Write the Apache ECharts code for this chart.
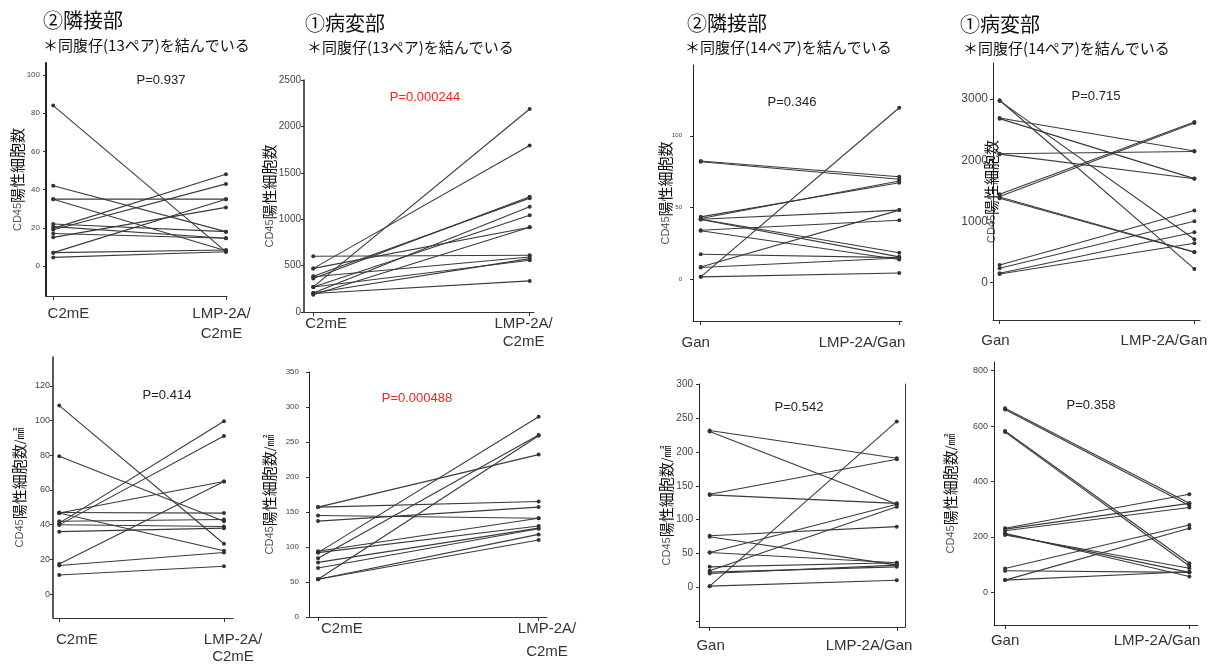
<!DOCTYPE html>
<html>
<head>
<meta charset="utf-8">
<title>CD45陽性細胞数</title>
<script src="https://cdn.jsdelivr.net/npm/echarts@6/dist/echarts.min.js"></script>
<style>
  html, body { margin: 0; padding: 0; background: #fff; }
  #main { width: 1219px; height: 664px; }
</style>
</head>
<body>
<div id="main"></div>
<script>
  // カテゴリ
  var catC2mE = ['C2mE', 'LMP-2A/\nC2mE'];
  var catGan = ['Gan', 'LMP-2A/Gan'];

  // ②隣接部 C2mE 細胞数 (13ペア)
  var adjC2mE_base = [84, 42, 35, 35, 19.7, 19, 15, 7, 22, 20.6, 17, 7, 4.5];
  var adjC2mE_lmp = [7.5, 18, 35, 8, 48, 43, 30.7, 35, 18, 14.5, 14.5, 8.4, 7.5];

  // ①病変部 C2mE 細胞数 (13ペア)
  var lesC2mE_base = [270, 470, 360, 385, 205, 270, 185, 470, 600, 380, 205, 270, 200];
  var lesC2mE_lmp = [2187, 1795, 1241, 1227, 1133, 1043, 914, 914, 611, 593, 575, 557, 335];

  // ②隣接部 C2mE 細胞数/㎟
  var adjC2mE_area_base = [108.7, 79.5, 40.9, 39.9, 46.7, 17.3, 46.7, 47, 42, 40, 36, 16.5, 11];
  var adjC2mE_area_lmp = [29, 42, 99.7, 91.2, 64.9, 64.9, 25, 46.7, 43, 39, 38, 24, 16];

  // ①病変部 C2mE 細胞数/㎟
  var lesC2mE_area_base = [92, 84, 54, 157, 157, 137, 145, 94, 92, 78, 70, 54, 54];
  var lesC2mE_area_lmp = [286, 260, 259, 232, 165, 157, 141, 141, 130, 127, 126, 118, 110];

  // ②隣接部 Gan 細胞数 (14ペア)
  var adjGan_base = [1.9, 82.4, 81.9, 43.6, 42.5, 42, 41.8, 34.3, 34, 17.6, 8.8, 8.4, 1.9, 42];
  var adjGan_lmp = [119.5, 71.5, 69.8, 67.3, 68.5, 48.3, 15.8, 41.3, 14, 15.3, 48.3, 15, 4.6, 18.6];

  // ①病変部 Gan 細胞数 (14ペア)
  var lesGan_base = [2980, 2970, 2690, 2680, 2106, 2100, 1446, 1408, 1380, 1400, 289, 235, 153, 142];
  var lesGan_lmp = [224, 709, 2150, 1700, 2144, 1697, 2624, 2608, 496, 500, 1178, 1004, 824, 644];

  // ②隣接部 Gan 細胞数/㎟
  var adjGan_area_base = [2, 231.5, 230, 137.4, 136.5, 76.4, 74.9, 51.7, 51.7, 24.6, 30.5, 22.7, 20.7, 2];
  var adjGan_area_lmp = [244.8, 190.6, 122.7, 189.2, 124.1, 89.7, 33, 122.7, 36.5, 119.2, 36.5, 30.5, 33, 10.8];

  // ①病変部 Gan 細胞数/㎟
  var lesGan_area_base = [664, 660, 582, 578, 231, 228, 222, 213, 210, 86, 78, 44, 44, 207];
  var lesGan_area_lmp = [321, 313, 105, 95, 354, 321, 306, 57, 72, 243, 72, 231, 74, 87];

  // 目盛りラベル
  var ticks1 = [0, 20, 40, 60, 80, 100];
  var ticks2 = [0, 500, 1000, 1500, 2000, 2500];
  var ticks3 = [0, 20, 40, 60, 80, 100, 120];
  var ticks4 = [0, 50, 100, 150, 200, 250, 300, 350];
  var ticks5 = [0, 50, 100];
  var ticks6 = [0, 1000, 2000, 3000];
  var ticks7 = [0, 50, 100, 150, 200, 250, 300];
  var ticks8 = [0, 200, 400, 600, 800];

  var pValues = ['P=0.937', 'P=0.000244', 'P=0.414', 'P=0.000488', 'P=0.346', 'P=0.715', 'P=0.542', 'P=0.358'];

  var NAME_COUNT = '{a|CD45}{b|陽性細胞数}';
  var NAME_AREA = '{a|CD45}{b|陽性細胞数}{c|/㎟}';

  // レイアウト (px)
  var panels = [
    { grid: [46, 63, 181, 233], x: [-0.042, 1.006], y: [-15.7, 106.3], labels: ticks1, cats: catC2mE, base: adjC2mE_base, lmp: adjC2mE_lmp,
      catPos: [0.088, 0.974], catMargin: 8, catLH: 20, yFont: 8, yMargin: 6, nameGap: 21, name: NAME_COUNT, axisW: 2, p: [161, 80], red: false },
    { grid: [304, 80, 230, 232], x: [-0.043, 1.02], y: [0, 2500], labels: ticks2, cats: catC2mE, base: lesC2mE_base, lmp: lesC2mE_lmp,
      catPos: [0.059, 0.972], catMargin: 3, catLH: 18, yFont: 10, yMargin: 3, nameGap: 27, name: NAME_COUNT, axisW: 1.5, p: [425, 97], red: true },
    { grid: [53, 357, 180, 261], x: [-0.038, 1.055], y: [-13.8, 136.7], labels: ticks3, cats: catC2mE, base: adjC2mE_area_base, lmp: adjC2mE_area_lmp,
      catPos: [0.107, 1.055], catMargin: 13, catLH: 17, yFont: 9, yMargin: 3, nameGap: 26, name: NAME_AREA, axisW: 1.5, p: [167, 395], red: false },
    { grid: [309, 372, 238, 245], x: [-0.041, 1.038], y: [0, 350], labels: ticks4, cats: catC2mE, base: lesC2mE_area_base, lmp: lesC2mE_area_lmp,
      catPos: [0.108, 1.038], catMargin: 0, catLH: 23, yFont: 8, yMargin: 10, nameGap: 32, name: NAME_AREA, axisW: 1, p: [417, 398], red: true },
    { grid: [693, 65, 209, 256], x: [-0.039, 1.014], y: [-28.8, 149.2], labels: ticks5, cats: catGan, base: adjGan_base, lmp: adjGan_lmp,
      catPos: [-0.025, 0.813], catMargin: 13, catLH: 18, yFont: 6, yMargin: 11, nameGap: 20, name: NAME_COUNT, axisW: 1, p: [792, 102], red: false },
    { grid: [993, 63, 207, 257], x: [-0.034, 1.029], y: [-610, 3589], labels: ticks6, cats: catGan, base: lesGan_base, lmp: lesGan_lmp,
      catPos: [-0.021, 0.844], catMargin: 12, catLH: 18, yFont: 12, yMargin: 5, nameGap: -6, name: NAME_COUNT, axisW: 1, p: [1096, 96], red: false },
    { grid: [699, 384, 206, 243], x: [-0.057, 1.044], y: [-58.2, 300], labels: ticks7, cats: catGan, base: adjGan_area_base, lmp: adjGan_area_lmp,
      catPos: [0.005, 0.852], catMargin: 10, catLH: 18, yFont: 10, yMargin: 6, nameGap: 25, name: NAME_AREA, axisW: 1, p: [799, 407], red: false, extraTick: -50 },
    { grid: [994, 362, 204, 263], x: [-0.06, 1.047], y: [-118, 831], labels: ticks8, cats: catGan, base: lesGan_area_base, lmp: lesGan_area_lmp,
      catPos: [0, 0.825], catMargin: 7, catLH: 18, yFont: 9, yMargin: 6, nameGap: 36, name: NAME_AREA, axisW: 1, p: [1091, 405], red: false }
  ];

  var titles = [
    { text: '②隣接部', sub: '＊同腹仔(13ペア)を結んでいる', x: 43, y: 20, sx: 43, sy: 45 },
    { text: '①病変部', sub: '＊同腹仔(13ペア)を結んでいる', x: 305, y: 23, sx: 307, sy: 47 },
    { text: '②隣接部', sub: '＊同腹仔(14ペア)を結んでいる', x: 687, y: 23, sx: 685, sy: 47 },
    { text: '①病変部', sub: '＊同腹仔(14ペア)を結んでいる', x: 960, y: 24, sx: 963, sy: 48 }
  ];

  var LATIN = 'Liberation Sans, Arial, sans-serif';
  var CJK = 'Noto Sans CJK JP, sans-serif';

  var grids = [], xAxes = [], yAxes = [], series = [], graphics = [];

  panels.forEach(function (pn, k) {
    grids.push({ left: pn.grid[0], top: pn.grid[1], width: pn.grid[2], height: pn.grid[3], outerBoundsMode: 'none' });

    xAxes.push({
      type: 'value', gridIndex: k, min: pn.x[0], max: pn.x[1],
      axisLine: { show: true, onZero: false, lineStyle: { color: '#333', width: 1 } },
      axisTick: { show: true, length: 4, customValues: [0, 1], lineStyle: { color: '#333' } },
      splitLine: { show: false },
      axisLabel: {
        customValues: pn.catPos,
        margin: pn.catMargin,
        fontSize: 15, lineHeight: pn.catLH, color: '#333', fontFamily: LATIN,
        formatter: function (v) { return v < 0.5 ? pn.cats[0] : pn.cats[1]; }
      }
    });

    var tickVals = pn.labels.slice();
    if (pn.extraTick !== undefined) tickVals.unshift(pn.extraTick);

    yAxes.push({
      type: 'value', gridIndex: k, min: pn.y[0], max: pn.y[1],
      name: pn.name, nameLocation: 'middle', nameGap: pn.nameGap, nameRotate: 90, nameMoveOverlap: false,
      nameTextStyle: {
        rich: {
          a: { fontSize: 11, color: '#555', fontFamily: LATIN },
          b: { fontSize: 15, color: '#111', fontFamily: CJK },
          c: { fontSize: 12, color: '#111', fontFamily: CJK }
        }
      },
      axisLine: { show: true, onZero: false, lineStyle: { color: '#222', width: pn.axisW } },
      axisTick: { show: true, length: 3, customValues: tickVals, lineStyle: { color: '#333' } },
      splitLine: { show: false },
      axisLabel: {
        customValues: pn.labels, fontSize: pn.yFont, margin: pn.yMargin, color: '#444', fontFamily: LATIN,
        formatter: function (v) { return String(v); }
      }
    });

    for (var i = 0; i < pn.base.length; i++) {
      series.push({
        type: 'line', xAxisIndex: k, yAxisIndex: k,
        data: [[0, pn.base[i]], [1, pn.lmp[i]]],
        symbol: 'circle', symbolSize: 4,
        itemStyle: { color: '#333' },
        lineStyle: { color: '#3a3a3a', width: 1.1 },
        silent: true, animation: false
      });
    }

    graphics.push({
      type: 'text', x: pn.p[0], y: pn.p[1],
      style: { text: pValues[k], font: '13px ' + LATIN, fill: pn.red ? '#ff2020' : '#222', textAlign: 'center', textVerticalAlign: 'middle' }
    });
  });

  // 右下左パネルの右側の縦線
  yAxes.push({
    type: 'value', gridIndex: 6, position: 'right', min: panels[6].y[0], max: panels[6].y[1],
    axisLine: { show: true, onZero: false, lineStyle: { color: '#333', width: 1 } },
    axisTick: { show: false }, axisLabel: { show: false }, splitLine: { show: false }
  });

  titles.forEach(function (t) {
    graphics.push({ type: 'text', x: t.x, y: t.y, style: { text: t.text, font: '20px ' + CJK, fill: '#111', textVerticalAlign: 'middle' } });
    graphics.push({ type: 'text', x: t.sx, y: t.sy, style: { text: t.sub, font: '15px ' + CJK, fill: '#111', textVerticalAlign: 'middle' } });
  });

  var myChart = echarts.init(document.getElementById('main'));
  myChart.setOption({
    animation: false,
    backgroundColor: '#fff',
    grid: grids,
    xAxis: xAxes,
    yAxis: yAxes,
    series: series,
    graphic: graphics
  });
</script>
</body>
</html>
